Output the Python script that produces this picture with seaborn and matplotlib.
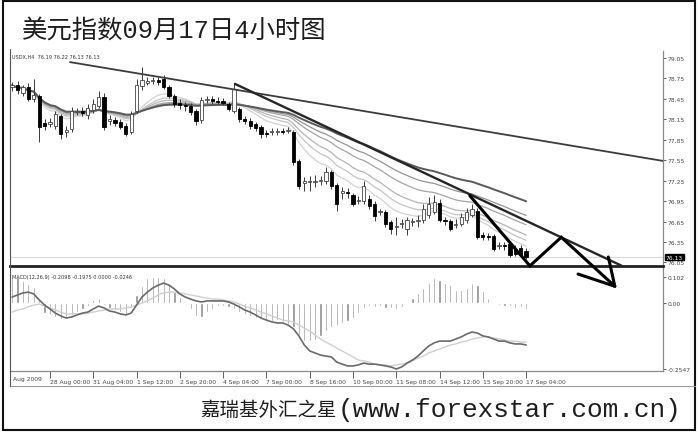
import numpy as np
import pandas as pd
import seaborn as sns
import matplotlib
matplotlib.use("Agg")
import matplotlib.pyplot as plt
import matplotlib.transforms as mtransforms
from matplotlib.lines import Line2D
from matplotlib.patches import Rectangle

# ======================================
# Data (USDX, H4 bars)
# ======================================

opens = [78.62, 78.65, 78.54, 78.62, 78.45, 78.49, 78.10, 78.08, 78.05, 78.20,
         77.97, 78.01, 78.26, 78.27, 78.21, 78.29, 78.35, 78.48, 78.12, 78.14,
         78.11, 78.05, 77.97, 78.27, 78.64, 78.68, 78.71, 78.73, 78.74, 78.62,
         78.49, 78.39, 78.36, 78.35, 78.27, 78.14, 78.43, 78.45, 78.42, 78.42,
         78.38, 78.27, 78.30, 78.15, 78.12, 78.08, 78.04, 77.95, 77.97, 77.97,
         77.98, 77.98, 77.97, 77.54, 77.22, 77.23, 77.23, 77.25, 77.25, 77.38,
         77.19, 77.07, 77.08, 77.04, 76.95, 76.95, 76.98, 76.91, 76.79, 76.79,
         76.64, 76.57, 76.61, 76.54, 76.64, 76.66, 76.67, 76.75, 76.79, 76.92,
         76.67, 76.66, 76.60, 76.61, 76.67, 76.75, 76.81, 76.45, 76.44, 76.44,
         76.29, 76.31, 76.32, 76.25, 76.26, 76.22]

highs = [78.70, 78.71, 78.65, 78.68, 78.74, 78.52, 78.15, 78.17, 78.27, 78.23,
         78.05, 78.33, 78.32, 78.33, 78.38, 78.45, 78.57, 78.54, 78.21, 78.18,
         78.15, 78.10, 78.27, 78.74, 78.92, 78.77, 78.77, 78.77, 78.80, 78.65,
         78.52, 78.45, 78.40, 78.39, 78.30, 78.48, 78.49, 78.49, 78.48, 78.46,
         78.40, 78.68, 78.33, 78.20, 78.17, 78.11, 78.07, 77.99, 78.02, 78.02,
         78.02, 78.04, 77.99, 77.57, 77.30, 77.32, 77.33, 77.32, 77.45, 77.41,
         77.22, 77.16, 77.14, 77.07, 77.03, 77.25, 77.04, 76.95, 76.83, 76.82,
         76.67, 76.72, 76.69, 76.72, 76.70, 76.75, 76.91, 77.01, 77.04, 76.98,
         76.72, 76.69, 76.69, 76.78, 76.85, 76.91, 76.85, 76.50, 76.48, 76.47,
         76.35, 76.35, 76.37, 76.31, 76.31, 76.26]

lows = [78.57, 78.52, 78.49, 78.42, 78.40, 77.82, 77.99, 78.04, 78.01, 77.86,
        77.89, 77.97, 78.21, 78.20, 78.15, 78.24, 78.32, 77.99, 78.07, 78.05,
        78.01, 77.91, 77.93, 78.24, 78.58, 78.65, 78.67, 78.65, 78.60, 78.46,
        78.33, 78.30, 78.27, 78.21, 78.07, 78.10, 78.39, 78.38, 78.38, 78.36,
        78.27, 78.24, 78.11, 78.08, 78.01, 77.98, 77.88, 77.89, 77.92, 77.92,
        77.93, 77.95, 77.48, 77.13, 77.10, 77.10, 77.16, 77.19, 77.20, 77.13,
        76.81, 76.98, 77.00, 76.88, 76.91, 76.91, 76.83, 76.66, 76.75, 76.57,
        76.47, 76.45, 76.56, 76.45, 76.59, 76.57, 76.63, 76.70, 76.76, 76.64,
        76.60, 76.51, 76.56, 76.59, 76.63, 76.72, 76.39, 76.38, 76.38, 76.22,
        76.25, 76.23, 76.13, 76.15, 76.13, 76.10]

closes = [78.65, 78.58, 78.62, 78.45, 78.51, 78.04, 78.05, 78.11, 78.23, 77.93,
          77.99, 78.27, 78.27, 78.24, 78.32, 78.38, 78.48, 78.04, 78.15, 78.10,
          78.04, 77.93, 78.23, 78.65, 78.73, 78.71, 78.73, 78.70, 78.62, 78.49,
          78.38, 78.36, 78.35, 78.26, 78.12, 78.43, 78.45, 78.42, 78.41, 78.39,
          78.30, 78.60, 78.15, 78.12, 78.05, 78.02, 77.93, 77.93, 77.98, 77.98,
          77.97, 77.99, 77.52, 77.17, 77.25, 77.24, 77.25, 77.26, 77.38, 77.17,
          76.91, 77.10, 77.07, 76.91, 76.97, 77.17, 76.88, 76.73, 76.80, 76.61,
          76.54, 76.59, 76.63, 76.67, 76.66, 76.67, 76.83, 76.91, 76.94, 76.67,
          76.66, 76.54, 76.61, 76.72, 76.79, 76.83, 76.42, 76.43, 76.42, 76.25,
          76.31, 76.29, 76.16, 76.17, 76.16, 76.13]

# MACD(12,26,9) panel
macd_hist = [0.102, 0.100, 0.085, 0.073, 0.062, 0.015, -0.039, -0.046, -0.054, -0.062,
             -0.054, -0.046, -0.035, -0.023, -0.012, 0.012, 0.019, -0.008, -0.019, -0.027,
             -0.035, -0.042, -0.019, 0.031, 0.066, 0.097, 0.102, 0.102, 0.097, 0.069,
             0.042, 0.023, 0.004, -0.023, -0.050, -0.054, -0.035, -0.023, -0.012, -0.012,
             -0.015, -0.023, -0.035, -0.042, -0.050, -0.058, -0.062, -0.066, -0.069, -0.066,
             -0.073, -0.081, -0.093, -0.124, -0.147, -0.147, -0.143, -0.127, -0.108, -0.093,
             -0.085, -0.077, -0.069, -0.058, -0.039, -0.019, -0.012, -0.015, -0.012, -0.019,
             -0.019, -0.023, -0.015, -0.004, 0.019, 0.039, 0.058, 0.077, 0.097, 0.089,
             0.077, 0.069, 0.050, 0.050, 0.058, 0.077, 0.069, 0.046, 0.019, 0.004,
             -0.008, -0.010, -0.012, -0.019, -0.015, -0.025]

macd_main = [0.023, 0.031, 0.039, 0.042, 0.035, 0.012, -0.008, -0.023, -0.039, -0.050,
             -0.058, -0.054, -0.046, -0.039, -0.035, -0.023, -0.012, -0.019, -0.031, -0.035,
             -0.042, -0.046, -0.039, -0.008, 0.023, 0.042, 0.058, 0.069, 0.077, 0.069,
             0.054, 0.035, 0.023, 0.015, 0.008, 0.004, 0.008, 0.008, 0.008, 0.008,
             0.004, -0.004, -0.015, -0.027, -0.035, -0.046, -0.058, -0.066, -0.073, -0.077,
             -0.077, -0.085, -0.100, -0.127, -0.162, -0.185, -0.193, -0.201, -0.205, -0.208,
             -0.228, -0.236, -0.243, -0.243, -0.239, -0.232, -0.236, -0.236, -0.239, -0.243,
             -0.247, -0.2547, -0.247, -0.232, -0.220, -0.205, -0.185, -0.166, -0.154, -0.147,
             -0.147, -0.147, -0.139, -0.131, -0.120, -0.112, -0.116, -0.127, -0.131, -0.139,
             -0.147, -0.147, -0.154, -0.158, -0.158, -0.162]

macd_signal = [-0.035, -0.027, -0.023, -0.015, -0.008, -0.004, -0.012, -0.019, -0.027, -0.035,
               -0.042, -0.042, -0.042, -0.042, -0.039, -0.035, -0.031, -0.027, -0.023, -0.023,
               -0.023, -0.019, -0.015, -0.008, 0.000, 0.008, 0.019, 0.031, 0.039, 0.042,
               0.042, 0.039, 0.035, 0.031, 0.027, 0.023, 0.019, 0.015, 0.015, 0.012,
               0.008, 0.004, -0.004, -0.012, -0.019, -0.027, -0.035, -0.042, -0.050, -0.058,
               -0.066, -0.069, -0.073, -0.085, -0.097, -0.108, -0.124, -0.139, -0.151, -0.162,
               -0.174, -0.185, -0.197, -0.208, -0.220, -0.224, -0.228, -0.236, -0.239, -0.239,
               -0.243, -0.239, -0.236, -0.232, -0.224, -0.212, -0.205, -0.193, -0.185, -0.178,
               -0.170, -0.162, -0.158, -0.151, -0.147, -0.139, -0.135, -0.131, -0.131, -0.135,
               -0.139, -0.143, -0.147, -0.147, -0.151, -0.151]

ema_spans = [10, 15, 20, 30, 40]
ema_slow = 60

date_pos = [7, 15, 23, 31, 39, 47, 55, 63, 71, 79, 87, 95]
date_labels = ["28 Aug 00:00", "31 Aug 04:00", "1 Sep 12:00", "2 Sep 20:00",
               "4 Sep 04:00", "7 Sep 00:00", "8 Sep 16:00", "10 Sep 00:00",
               "11 Sep 08:00", "14 Sep 12:00", "15 Sep 20:00", "17 Sep 04:00"]

price_ticks = [79.05, 78.75, 78.45, 78.15, 77.85, 77.55, 77.25, 76.95, 76.65, 76.35, 76.05]
last_price = 76.13

# hand drawn lines (bar index, price)
trend_top_x = [10.7, 120.3]
trend_top_y = [78.99, 77.54]
trend_down_x = [41.2, 112.7]
trend_down_y = [78.67, 76.00]
zigzag_x = [84.6, 95.7, 101.5, 111.4]
zigzag_y = [77.03, 76.00, 76.42, 75.70]
head_x = [104.6, 111.4, 110.2]
head_y = [75.88, 75.70, 76.13]

# ======================================
# Frame
# ======================================

df = pd.DataFrame({"bar": np.arange(len(closes)), "open": opens, "high": highs,
                   "low": lows, "close": closes, "hist": macd_hist,
                   "macd": macd_main, "signal": macd_signal})

for span in ema_spans + [ema_slow]:
    df["ema%d" % span] = df["close"].ewm(span=span).mean()

sns.set_theme(style="white")
plt.rcParams["font.family"] = ["DejaVu Sans", "Noto Sans CJK SC"]

fig = plt.figure(figsize=(7, 4.39), dpi=100)
W, H = 700.0, 439.0

ax2 = fig.add_axes([10 / W, 1 - 372 / H, 653 / W, 104 / H])
ax = fig.add_axes([10 / W, 1 - 267 / H, 653 / W, 215 / H], sharex=ax2)
ax.set_zorder(ax2.get_zorder() + 1)
ax.patch.set_visible(False)

xmin, xmax = -0.39, 120.3

# ======================================
# Price panel
# ======================================

ema_colors = ["#d2d2d2", "#c4c4c4", "#b4b4b4", "#a4a4a4", "#959595"]
for span, c in zip(ema_spans, ema_colors):
    sns.lineplot(data=df, x="bar", y="ema%d" % span, ax=ax, color=c,
                 linewidth=0.9, legend=False, zorder=2)
sns.lineplot(data=df, x="bar", y="ema%d" % ema_slow, ax=ax, color="#5a5a5a",
             linewidth=1.4, legend=False, zorder=2)

up = df["close"] >= df["open"]
ax.vlines(df["bar"], df["low"], df["high"], color="#3a3a3a", linewidth=0.7, zorder=3)
ax.bar(df["bar"][up], (df["close"] - df["open"])[up], bottom=df["open"][up],
       width=0.6, color="white", edgecolor="#444444", linewidth=0.6, zorder=4)
ax.bar(df["bar"][~up], (df["close"] - df["open"])[~up], bottom=df["open"][~up],
       width=0.6, color="black", edgecolor="black", linewidth=0.6, zorder=4)

ax.axhline(last_price, color="#d8d8d8", linewidth=0.8, zorder=1)

ax.plot(trend_top_x, trend_top_y, color="#3c3c3c", linewidth=1.3, zorder=5)
ax.plot(trend_down_x, trend_down_y, color="#262626", linewidth=1.7, zorder=5)
ax.plot(zigzag_x, zigzag_y, color="black", linewidth=2.2, zorder=6,
        clip_on=False, solid_joinstyle="miter")
ax.plot(head_x, head_y, color="black", linewidth=2.2, zorder=6, clip_on=False)

ax.set_xlim(xmin, xmax)
ax.set_ylim(75.998, 79.153)
ax.yaxis.tick_right()
ax.set_yticks(price_ticks)
ax.set_yticklabels(["%.2f" % t for t in price_ticks])
ax.tick_params(axis="y", right=True, length=2, width=0.6, pad=1.5,
               labelsize=4.3, colors="#444444")
ax.tick_params(axis="x", bottom=False, labelbottom=False)
ax.set_xlabel("")
ax.set_ylabel("")
for s in ["top", "left"]:
    ax.spines[s].set_visible(False)
ax.spines["right"].set_color("#8a8a8a")
ax.spines["right"].set_linewidth(0.9)
ax.spines["bottom"].set_color("#222222")
ax.spines["bottom"].set_linewidth(2.0)

ax.text(0.003, 0.985, "USDX,H4  76.19 76.22 76.13 76.13", transform=ax.transAxes,
        fontsize=3.6, color="#333333", va="top", ha="left")

trans = mtransforms.blended_transform_factory(ax.transAxes, ax.transData)
ax.text(1.004, last_price, "76.13", transform=trans, fontsize=4.3, color="white",
        va="center", ha="left", zorder=7,
        bbox=dict(boxstyle="square,pad=0.15", fc="black", ec="black"))

# ======================================
# MACD panel
# ======================================

ax2.bar(df["bar"], df["hist"], width=0.4, color="#8c8c8c", zorder=2)
sns.lineplot(data=df, x="bar", y="signal", ax=ax2, color="#cfcfcf",
             linewidth=1.0, legend=False, zorder=3)
sns.lineplot(data=df, x="bar", y="macd", ax=ax2, color="#6a6a6a",
             linewidth=1.2, legend=False, zorder=4)

ax2.set_ylim(-0.2625, 0.139)
ax2.yaxis.tick_right()
ax2.set_yticks([0.102, 0.0, -0.2547])
ax2.set_yticklabels(["0.102", "0.00", "-0.2547"])
ax2.tick_params(axis="y", right=True, length=2, width=0.6, pad=1.5,
                labelsize=4.3, colors="#444444")
ax2.set_xticks(date_pos)
ax2.set_xticklabels(date_labels, ha="left")
ax2.tick_params(axis="x", bottom=True, length=5, width=0.6, pad=1.0,
                labelsize=4.3, colors="#444444")
ax2.set_xlim(xmin, xmax)
ax2.set_xlabel("")
ax2.set_ylabel("")
for s in ["top", "left"]:
    ax2.spines[s].set_visible(False)
ax2.spines["right"].set_color("#8a8a8a")
ax2.spines["right"].set_linewidth(0.9)
ax2.spines["bottom"].set_color("#8a8a8a")
ax2.spines["bottom"].set_linewidth(0.9)

ax2.text(0.003, 0.93, "MACD(12,26,9) -0.2098 -0.1975 0.0000 -0.0246",
         transform=ax2.transAxes, fontsize=3.6, color="#333333", va="top", ha="left")
fig.text(13 / W, 1 - 380 / H, "Aug 2009", fontsize=4.3, color="#444444",
         va="center", ha="left")

# ======================================
# Titles and borders
# ======================================

fig.text(22 / W, 1 - 31 / H, "美元指数09月17日4小时图", fontsize=18.3,
         family=["Liberation Mono", "Noto Sans CJK SC"], color="#1e1e1e",
         va="center", ha="left")
fig.text(337 / W, 1 - 410 / H, "嘉瑞基外汇之星", fontsize=14,
         family=["Noto Sans CJK SC"], color="#1e1e1e", va="center", ha="right")
fig.text(338 / W, 1 - 410 / H, "(www.forexstar.com.cn)", fontsize=18.8,
         family=["Liberation Mono"], color="#1e1e1e", va="center", ha="left")

fig.add_artist(Line2D([10 / W, 695 / W], [1 - 387 / H, 1 - 387 / H],
                      color="#9a9a9a", linewidth=0.8))
fig.add_artist(Line2D([10 / W, 10 / W], [1 - 50 / H, 1 - 387 / H],
                      color="#555555", linewidth=0.8))
fig.add_artist(Rectangle((3 / W, 1 - 431 / H), 692 / W, 429 / H, fill=False,
                         ec="#111111", linewidth=1.5, transform=fig.transFigure))

fig.savefig("out.png", dpi=100)
